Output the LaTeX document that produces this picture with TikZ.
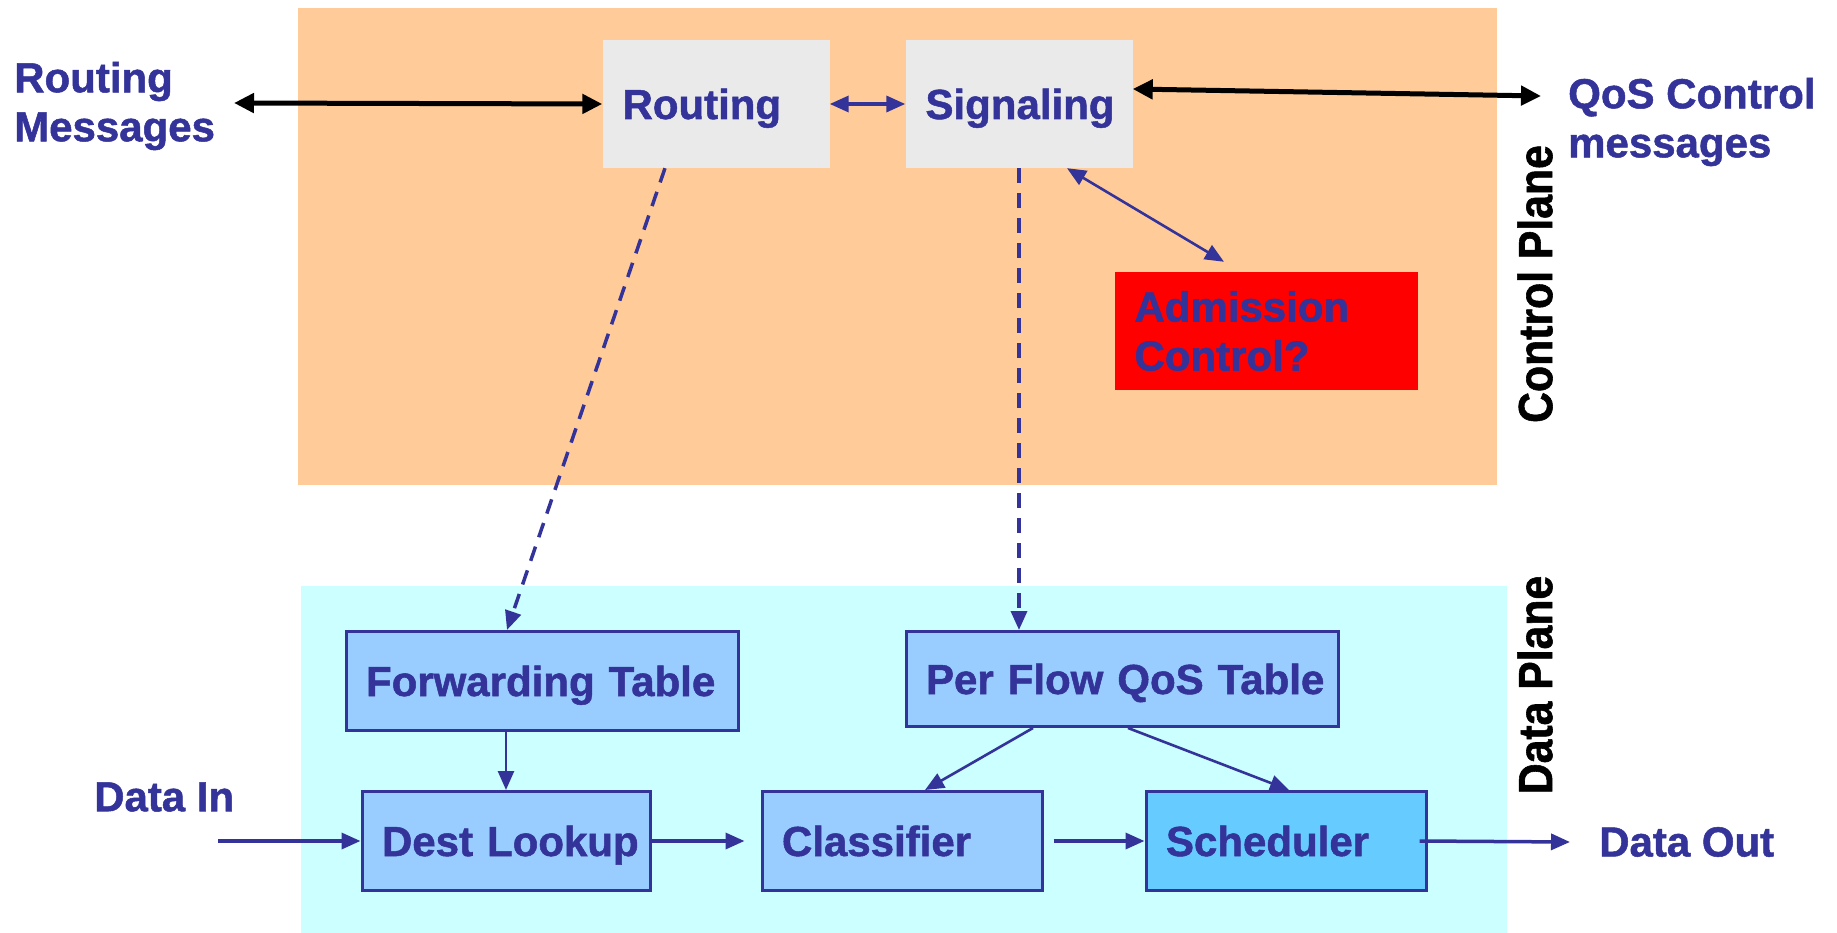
\documentclass[tikz,border=0pt]{standalone}
\usepackage{fontspec}
\setmainfont{Liberation Sans}[BoldFeatures={FakeBold=1.2}]
\newfontfamily\planefont{Liberation Sans}[FakeStretch=0.89,BoldFeatures={FakeBold=1.2}]
\usetikzlibrary{arrows.meta}
\definecolor{qosblue}{HTML}{333399}
\definecolor{ctrlorange}{HTML}{FFCC99}
\definecolor{datacyan}{HTML}{CCFFFF}
\definecolor{boxblue}{HTML}{99CCFF}
\definecolor{schedblue}{HTML}{66CCFF}
\definecolor{boxgrey}{HTML}{EAEAEA}
\begin{document}
\begin{tikzpicture}[x=1pt,y=-1pt,
	lbl/.style={font=\fontsize{42}{49}\selectfont\bfseries,text=qosblue,inner sep=0pt},
	boxlbl/.style={lbl,text height=30pt,text depth=0pt,inner xsep=20pt,align=left},
	ctrlbox/.style={boxlbl,fill=boxgrey,minimum height=128pt,text width=187pt},
	databox/.style={boxlbl,fill=boxblue,draw=qosblue,line width=3pt,minimum height=99pt},
	planelbl/.style={font=\fontsize{48}{56}\planefont\bfseries,rotate=90,inner sep=0pt},
	flow/.style={qosblue,line width=3.5pt,-{Triangle[length=19pt,width=16pt]}},
	thinflow/.style={flow,line width=2.6pt},
	bothflow/.style={qosblue,line width=3.5pt,{Triangle[length=19pt,width=16pt]}-{Triangle[length=19pt,width=16pt]}},
	msgflow/.style={black,line width=5pt,{Triangle[length=20pt,width=19pt]}-{Triangle[length=20pt,width=19pt]}},
	dashflow/.style={flow,dash pattern=on 15pt off 10pt}]
					\useasboundingbox (0,0) rectangle (1837,933);
					% the two planes
					\fill[ctrlorange] (298,8) rectangle (1497,485);
					\fill[datacyan] (301,586) rectangle (1507,933);
					\node[planelbl] (ctrlplane) at (1535,284) {Control Plane};
					\node[planelbl] (dataplane) at (1535,685) {Data Plane};
					% control plane
					\node[ctrlbox] (routing) at (716,104) {Routing};
					\node[ctrlbox] (signaling) at (1019,104) {Signaling};
					\node[lbl,fill=red,minimum height=118pt,text width=263pt,inner xsep=20pt,align=left]
						(admission) at (1266,331) {Admission\\Control?};
					\node[lbl,anchor=west,align=left] (routmsg) at (14,106) {Routing\\Messages};
					\node[lbl,anchor=west,align=left] (qosmsg) at (1568,122) {QoS Control\\messages};
					\coordinate (rmend) at (234,103);
					\coordinate (qosend) at (1541,96);
					\draw[msgflow] (rmend) -- (routing.west);
					\draw[msgflow] ([yshift=15pt]signaling.east) -- (qosend);
					\draw[bothflow] (routing.east) -- (signaling.west);
					\draw[bothflow,line width=2.6pt]
						([xshift=48pt]signaling.south) -- ([xshift=-42pt,yshift=10pt]admission.north);
					% data plane
					\node[databox,text width=352pt] (forwarding) at (542,681) {\mbox{Forwarding Table}};
					\node[databox,text width=392pt,minimum height=95pt] (perflow) at (1122,679) {\mbox{Per Flow QoS Table}};
					\node[databox,text width=248pt] (dest) at (506,841) {\mbox{Dest Lookup}};
					\node[databox,text width=240pt] (classifier) at (902,841) {Classifier};
					\node[databox,text width=240pt,fill=schedblue] (scheduler) at (1286,841) {Scheduler};
					\node[lbl,anchor=west] (datain) at (94,797) {Data In};
					\node[lbl,anchor=west] (dataout) at (1599,842) {Data Out};
					\coordinate (dinstart) at (218,841);
					\draw[dashflow] ([xshift=-51pt]routing.south) -- ([xshift=-35pt]forwarding.north);
					\draw[dashflow] (signaling.south) -- (signaling.south |- perflow.north);
					\draw[thinflow] (dest.north |- forwarding.south) -- (dest.north);
					\draw[thinflow] ([xshift=-89pt]perflow.south) -- ([xshift=23pt]classifier.north);
					\draw[thinflow] ([xshift=6pt]perflow.south) -- ([xshift=3pt]scheduler.north);
					\draw[flow] (dinstart) -- (dest.west);
					\draw[flow] (dest.east) -- ([xshift=-16pt]classifier.west);
					\draw[flow] ([xshift=10pt]classifier.east) -- (scheduler.west);
					\draw[flow] ([xshift=-8pt]scheduler.east) -- ([xshift=-29pt]dataout.west);
				\end{tikzpicture}
\end{document}
